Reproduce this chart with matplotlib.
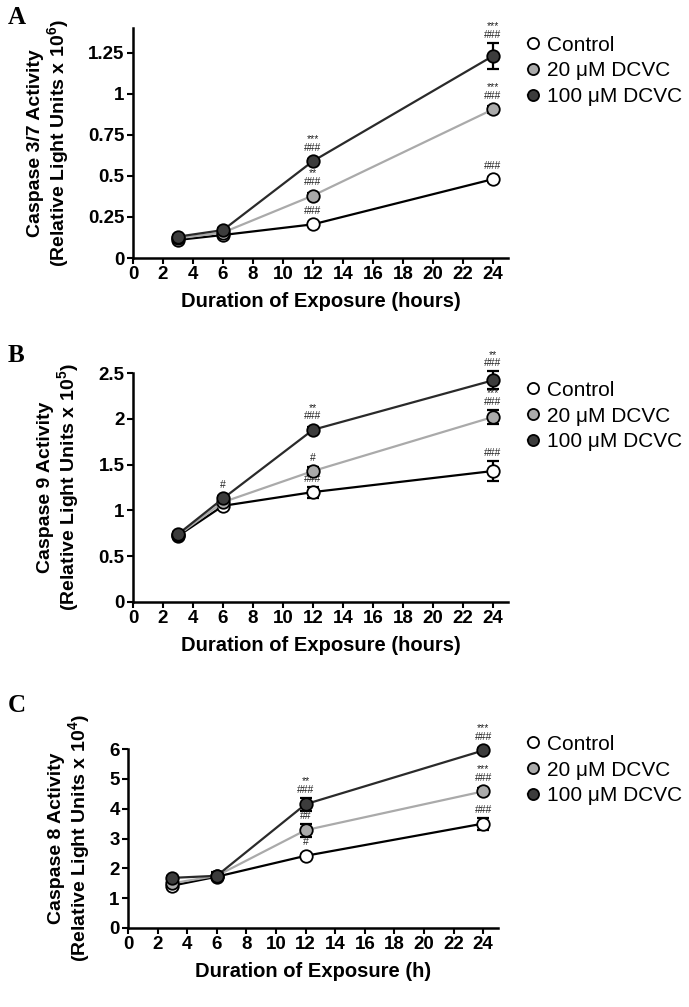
import matplotlib
matplotlib.use("Agg")
import matplotlib.pyplot as plt
from matplotlib import font_manager
import numpy as np

names = {f.name for f in font_manager.fontManager.ttflist}
narrow = 'Liberation Sans Narrow' if 'Liberation Sans Narrow' in names else 'Liberation Sans'
plt.rcParams['font.family'] = ['Liberation Sans', 'DejaVu Sans']

hours = [3, 6, 12, 24]
series_names = ["Control", "20 \u03bcM DCVC", "100 \u03bcM DCVC"]

# Panel A: Caspase 3/7 (x 10^6)
a_control = [0.11, 0.14, 0.205, 0.48]
a_20 = [0.12, 0.155, 0.38, 0.905]
a_100 = [0.13, 0.17, 0.59, 1.23]
a_control_err = [0.01, 0.01, 0.01, 0.015]
a_20_err = [0.01, 0.01, 0.015, 0.02]
a_100_err = [0.01, 0.01, 0.015, 0.08]
a_marks = {(12, 0): "###", (12, 1): "**\n###", (12, 2): "***\n###",
           (24, 0): "###", (24, 1): "***\n###", (24, 2): "***\n###"}

# Panel B: Caspase 9 (x 10^5)
b_control = [0.72, 1.05, 1.20, 1.43]
b_20 = [0.73, 1.09, 1.43, 2.02]
b_100 = [0.74, 1.13, 1.88, 2.42]
b_control_err = [0.02, 0.03, 0.06, 0.11]
b_20_err = [0.02, 0.03, 0.04, 0.08]
b_100_err = [0.02, 0.03, 0.03, 0.10]
b_marks = {(6, 2): "#", (12, 0): "###", (12, 1): "#", (12, 2): "**\n###",
           (24, 0): "###", (24, 1): "***\n###", (24, 2): "**\n###"}

# Panel C: Caspase 8 (x 10^4)
c_control = [1.42, 1.72, 2.42, 3.50]
c_20 = [1.50, 1.75, 3.28, 4.58]
c_100 = [1.68, 1.75, 4.15, 5.95]
c_control_err = [0.05, 0.08, 0.06, 0.2]
c_20_err = [0.05, 0.08, 0.22, 0.1]
c_100_err = [0.05, 0.12, 0.22, 0.07]
c_marks = {(12, 0): "#", (12, 1): "**\n##", (12, 2): "**\n###",
           (24, 0): "###", (24, 1): "***\n###", (24, 2): "***\n###"}

face_colors = ["white", "#aaaaaa", "#3c3c3c"]
line_colors = ["black", "#aaaaaa", "#2a2a2a"]

fig = plt.figure(figsize=(6.89, 10.07), dpi=100)

panels = [
    dict(rect=[133/689, 1-258/1007, 375/689, 230/1007], ylim=(0, 1.40),
         yticks=[0, 0.25, 0.5, 0.75, 1, 1.25], ylabels=["0", "0.25", "0.5", "0.75", "1", "1.25"],
         data=[a_control, a_20, a_100], err=[a_control_err, a_20_err, a_100_err],
         marks=a_marks, title1="Caspase 3/7 Activity", exp="6",
         xlabel="Duration of Exposure (hours)", letter="A", letter_y=1-18/1007,
         leg_y=1-71/1007),
    dict(rect=[133/689, 1-602/1007, 375/689, 229/1007], ylim=(0, 2.5),
         yticks=[0, 0.5, 1, 1.5, 2, 2.5], ylabels=["0", "0.5", "1", "1.5", "2", "2.5"],
         data=[b_control, b_20, b_100], err=[b_control_err, b_20_err, b_100_err],
         marks=b_marks, title1="Caspase 9 Activity", exp="5",
         xlabel="Duration of Exposure (hours)", letter="B", letter_y=1-356/1007,
         leg_y=1-416/1007),
    dict(rect=[128/689, 1-928/1007, 370/689, 179/1007], ylim=(0, 6),
         yticks=[0, 1, 2, 3, 4, 5, 6], ylabels=["0", "1", "2", "3", "4", "5", "6"],
         data=[c_control, c_20, c_100], err=[c_control_err, c_20_err, c_100_err],
         marks=c_marks, title1="Caspase 8 Activity", exp="4",
         xlabel="Duration of Exposure (h)", letter="C", letter_y=1-706/1007,
         leg_y=1-770/1007),
]

for p in panels:
    ax = fig.add_axes(p["rect"])
    ax_h_pt = p["rect"][3] * 10.07 * 72
    handles = []
    for i in range(3):
        eb = ax.errorbar(hours, p["data"][i], yerr=p["err"][i], fmt="none",
                         ecolor="black", elinewidth=1.6, capsize=4, capthick=1.6, zorder=2)
        for art in eb.get_children():
            art.set_clip_on(False)
        h, = ax.plot(hours, p["data"][i], color=line_colors[i], lw=1.6,
                     marker="o", ms=9, mfc=face_colors[i], mec="black", mew=1.3,
                     zorder=3 + i, label=series_names[i], clip_on=False)
        handles.append(h)
    for (hx, si), txt in p["marks"].items():
        k = hours.index(hx)
        yv = p["data"][si][k]
        err_pt = p["err"][si][k] / p["ylim"][1] * ax_h_pt
        off = max(6.0, err_pt + 2.0)
        ax.annotate(txt, (hx, yv), xytext=(0, off), textcoords="offset points",
                    ha="center", va="bottom", fontsize=7.5, linespacing=0.85,
                    color="#222222")
    ax.set_xlim(0, 25)
    ax.set_ylim(*p["ylim"])
    ax.set_xticks(range(0, 25, 2))
    ax.set_xticklabels([str(v) for v in range(0, 25, 2)], fontsize=13.5,
                       fontweight="bold", family=[narrow, 'DejaVu Sans'])
    ax.set_yticks(p["yticks"])
    ax.set_yticklabels(p["ylabels"], fontsize=13.5, fontweight="bold",
                       family=[narrow, 'DejaVu Sans'])
    for s in ["top", "right"]:
        ax.spines[s].set_visible(False)
    for s in ["left", "bottom"]:
        ax.spines[s].set_linewidth(1.8)
    ax.tick_params(direction="out", length=4, width=1.5, pad=2)
    ax.set_xlabel(p["xlabel"], fontsize=14.5, fontweight="bold", labelpad=6)
    ax.set_ylabel(p["title1"] + "\n(Relative Light Units x 10$^{\\mathregular{" + p["exp"] + "}}$)",
                  fontsize=14, fontweight="bold", labelpad=12, linespacing=1.05)
    fig.text(8/689, p["letter_y"], p["letter"], fontsize=18, fontweight="bold",
             family="Liberation Serif", ha="left", va="center")
    fig.legend(handles=handles, loc="center left", bbox_to_anchor=(520/689, p["leg_y"]),
               frameon=False, fontsize=15, handlelength=0.4, handletextpad=0.5,
               labelspacing=0.33, borderaxespad=0)
    for lh in fig.legends[-1].legend_handles:
        lh.set_markersize(8)

fig.savefig("out.png", dpi=100)
